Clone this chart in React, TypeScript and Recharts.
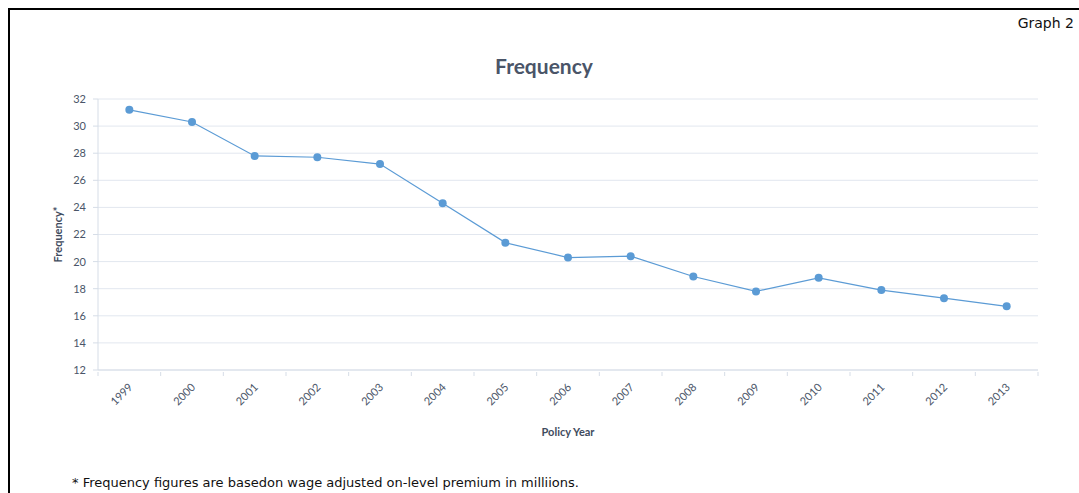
import React from 'react';
import { LineChart, Line, XAxis, YAxis, CartesianGrid, Label } from 'recharts';

const years = ['1999', '2000', '2001', '2002', '2003', '2004', '2005', '2006', '2007', '2008', '2009', '2010', '2011', '2012', '2013'];
const frequency = [31.2, 30.3, 27.8, 27.7, 27.2, 24.3, 21.4, 20.3, 20.4, 18.9, 17.8, 18.8, 17.9, 17.3, 16.7];
const yTicks = [12, 14, 16, 18, 20, 22, 24, 26, 28, 30, 32];

const data = years.map((year, i) => ({ year, value: frequency[i] }));

const CHART_W = 1060;
const CHART_H = 470;
const MARGIN = { top: 89, right: 32, bottom: 50, left: 48 };
const Y_AXIS_W = 40;
const PLOT_W = CHART_W - MARGIN.left - MARGIN.right - Y_AXIS_W;
const BAND = PLOT_W / years.length;

const axisColor = '#d6dde7';
const textColor = '#4a5568';
const font = 'Lato, "Open Sans", sans-serif';

// category ticks sit between the years, labels sit under each year
const YearTick = (props: any) => {
  const { x, y, payload, index } = props;
  const axisY = y - 6;
  const lx = x + 4;
  const ly = axisY + 16;
  return (
    <g>
      <line x1={x - BAND / 2} x2={x - BAND / 2} y1={axisY} y2={axisY + 4} stroke={axisColor} />
      {index === years.length - 1 && (
        <line x1={x + BAND / 2} x2={x + BAND / 2} y1={axisY} y2={axisY + 4} stroke={axisColor} />
      )}
      <text
        x={lx}
        y={ly}
        textAnchor="end"
        fontSize={11}
        fill={textColor}
        fontFamily={font}
        transform={`rotate(-45, ${lx}, ${ly})`}
      >
        {payload.value}
      </text>
    </g>
  );
};

const YLabel = (props: any) => {
  const { viewBox } = props;
  const cx = viewBox.x - 1;
  const cy = viewBox.y + viewBox.height / 2;
  return (
    <text
      x={cx}
      y={cy}
      textAnchor="middle"
      dominantBaseline="central"
      fontSize={11}
      fontWeight="bold"
      fill="#3f4b5e"
      fontFamily={font}
      transform={`rotate(-90, ${cx}, ${cy})`}
    >
      Frequency*
    </text>
  );
};

export default function App() {
  return (
    <div
      style={{
        position: 'fixed',
        left: 0,
        top: 0,
        width: 1079,
        height: 493,
        background: '#fff',
        overflow: 'hidden',
      }}
    >
      <div
        style={{
          position: 'absolute',
          left: 8,
          top: 8,
          width: 1080,
          height: 490,
          borderTop: '2px solid #000',
          borderLeft: '2px solid #000',
          boxSizing: 'border-box',
        }}
      >
        <div
          style={{
            position: 'absolute',
            right: 14,
            top: 5,
            fontFamily: '"DejaVu Sans", sans-serif',
            fontSize: 14,
            color: '#111',
            whiteSpace: 'nowrap',
          }}
        >
          Graph 2
        </div>
        <div
          style={{
            position: 'absolute',
            left: 0,
            width: 1068,
            top: 43,
            textAlign: 'center',
            fontFamily: font,
            fontSize: 21,
            fontWeight: 'bold',
            color: '#4a5568',
          }}
        >
          Frequency
        </div>
        <div style={{ position: 'absolute', left: 0, top: 0 }}>
          <LineChart width={CHART_W} height={CHART_H} data={data} margin={MARGIN}>
            <CartesianGrid vertical={false} stroke="#e2e7ef" />
            <XAxis
              dataKey="year"
              height={60}
              padding={{ left: BAND / 2, right: BAND / 2 }}
              tickLine={false}
              axisLine={{ stroke: axisColor }}
              tick={<YearTick />}
              interval={0}
            >
              <Label
                value="Policy Year"
                position="bottom"
                offset={-2}
                fontSize={11}
                fontWeight="bold"
                fill="#3f4b5e"
                fontFamily={font}
              />
            </XAxis>
            <YAxis
              width={Y_AXIS_W}
              domain={[12, 32]}
              ticks={yTicks}
              interval={0}
              tickSize={5}
              tickMargin={7}
              axisLine={{ stroke: axisColor }}
              tickLine={{ stroke: axisColor }}
              tick={{ fontSize: 11, fill: textColor, fontFamily: font }}
            >
              <Label content={<YLabel />} />
            </YAxis>
            <Line
              dataKey="value"
              stroke="#5b9bd5"
              strokeWidth={1.2}
              dot={{ r: 4, fill: '#5b9bd5', stroke: 'none' }}
              isAnimationActive={false}
            />
          </LineChart>
        </div>
        <div
          style={{
            position: 'absolute',
            left: 62,
            top: 465,
            fontFamily: '"DejaVu Sans", sans-serif',
            fontSize: 13,
            color: '#111',
            whiteSpace: 'nowrap',
          }}
        >
          * Frequency figures are basedon wage adjusted on-level premium in milliions.
        </div>
      </div>
    </div>
  );
}
